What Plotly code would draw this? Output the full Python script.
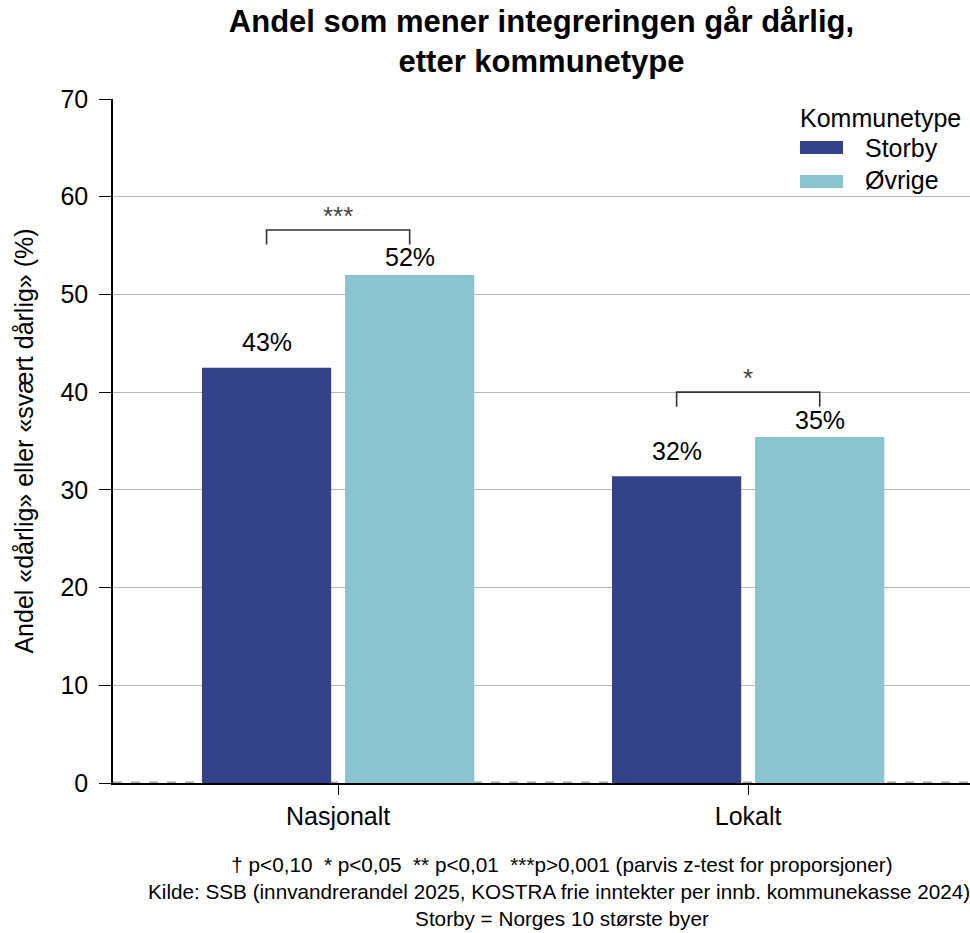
import plotly.graph_objects as go

# ---- data ----
categories = ["Nasjonalt", "Lokalt"]
series_names = ["Storby", "Øvrige"]
storby = [42.5, 31.4]
ovrige = [52.0, 35.4]
labels_storby = ["43%", "32%"]
labels_ovrige = ["52%", "35%"]
significance = ["***", "*"]
y_ticks = [0, 10, 20, 30, 40, 50, 60, 70]

title_text = "<b>Andel som mener integreringen går dårlig,<br>etter kommunetype</b>"
y_title = "Andel «dårlig» eller «svært dårlig» (%)"
legend_title = "Kommunetype"
footer = ("† p<0,10  * p<0,05  ** p<0,01  ***p>0,001 (parvis z-test for proporsjoner)<br>"
          "Kilde: SSB (innvandrerandel 2025, KOSTRA frie inntekter per innb. kommunekasse 2024).<br>"
          "Storby = Norges 10 største byer")

# ---- style ----
FONT = "Liberation Sans, Arial, sans-serif"
colors = ["#344289", "#89C4CF"]
label_offsets = [0.95, 0.15]
bargap = 0.302
bargroupgap = 0.097

values = [storby, ovrige]
labels = [labels_storby, labels_ovrige]

fig = go.Figure()
for name, vals, col in zip(series_names, values, colors):
    fig.add_trace(go.Bar(x=categories, y=vals, name=name, marker=dict(color=col, line=dict(width=0)),
                         showlegend=False, hoverinfo="x+y"))

# bar centre offset within a group
half = (1 - bargap) / 4
offsets = [-half, half]

annotations = []
shapes = []
for s, (vals, labs, off) in enumerate(zip(values, labels, offsets)):
    for i, (v, lab) in enumerate(zip(vals, labs)):
        annotations.append(dict(x=i + off, y=v + label_offsets[s], xref="x", yref="y", text=lab,
                                showarrow=False, yanchor="bottom", xanchor="center",
                                font=dict(family=FONT, size=25, color="black")))

# significance brackets
for i, sig in enumerate(significance):
    top = max(storby[i], ovrige[i]) + 4.6
    leg = top - 1.5
    x0, x1 = i + offsets[0], i + offsets[1]
    path = f"M {x0},{leg} L {x0},{top} L {x1},{top} L {x1},{leg}"
    shapes.append(dict(type="path", path=path, xref="x", yref="y",
                       line=dict(color="#333333", width=1.6)))
    annotations.append(dict(x=i, y=top - 0.3, xref="x", yref="y", text=sig, showarrow=False,
                            yanchor="bottom", xanchor="center",
                            font=dict(family=FONT, size=26, color="#444444")))

# dashed baseline
shapes.append(dict(type="line", xref="paper", yref="y", x0=0, x1=1, y0=0, y1=0,
                   line=dict(color="#a8a8a8", width=3, dash="dash"), layer="below"))

# manual legend (wide swatches)
annotations.append(dict(x=0.7993, y=0.9722, xref="paper", yref="paper", text=legend_title,
                        showarrow=False, xanchor="left", yanchor="middle",
                        font=dict(family=FONT, size=25, color="black")))
leg_rows = [(0.9196, 0.9386, 0.9284), (0.8699, 0.8889, 0.8816)]
for (y0, y1, yt), name, col in zip(leg_rows, series_names, colors):
    shapes.append(dict(type="rect", xref="paper", yref="paper", x0=0.8016, x1=0.8518, y0=y0, y1=y1,
                       fillcolor=col, line=dict(width=0)))
    annotations.append(dict(x=0.875, y=yt, xref="paper", yref="paper", text=name, showarrow=False,
                            xanchor="left", yanchor="middle",
                            font=dict(family=FONT, size=25, color="black")))

# footer
annotations.append(dict(x=0.524, y=-0.158, xref="paper", yref="paper", text=footer, showarrow=False,
                        xanchor="center", yanchor="middle", align="center",
                        font=dict(family=FONT, size=20.7, color="black")))

fig.update_layout(
    width=970, height=933,
    margin=dict(l=113, r=0, t=99, b=150),
    paper_bgcolor="white", plot_bgcolor="white",
    barmode="group", bargap=bargap, bargroupgap=bargroupgap,
    font=dict(family=FONT, size=25, color="black"),
    title=dict(text=title_text, x=0.5, xref="paper", xanchor="center",
               y=1 - 32 / 933, yref="container", yanchor="top",
               font=dict(family=FONT, size=31, color="black")),
    showlegend=False,
    annotations=annotations,
    shapes=shapes,
)
fig.update_xaxes(type="category", range=[-0.549, 1.541], showline=True, linecolor="black", linewidth=1.5,
                 ticks="outside", ticklen=10, tickcolor="black", tickwidth=1, showgrid=False,
                 tickfont=dict(family=FONT, size=25, color="black"), ticklabelstandoff=0)
fig.update_yaxes(range=[0, 70], tickvals=y_ticks, showline=True, linecolor="black", linewidth=1.5,
                 ticks="outside", ticklen=12, tickcolor="black", tickwidth=1,
                 showgrid=True, gridcolor="#b8b8b8", gridwidth=1, zeroline=False,
                 tickfont=dict(family=FONT, size=25, color="black"), ticklabelstandoff=6,
                 title=dict(text=y_title, standoff=20, font=dict(family=FONT, size=25, color="black")))

fig.write_html("out.html", config={"displayModeBar": False},
               post_script="document.body.style.margin='0';document.documentElement.style.overflow='hidden';document.body.style.overflow='hidden';")
